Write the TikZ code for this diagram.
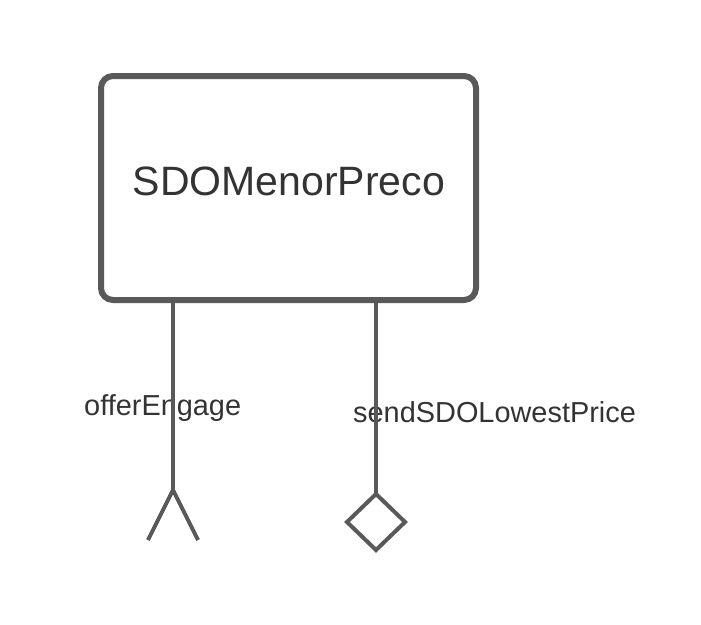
\documentclass[tikz,border=0pt]{standalone}
\usepackage{fontspec}
\setmainfont{Liberation Sans}
\usetikzlibrary{shapes.geometric}
\definecolor{umlgray}{HTML}{595959}
\definecolor{umltext}{HTML}{333333}
\tikzset{
  compbox/.style={draw=umlgray, line width=6pt, rounded corners=12pt, rectangle,
    minimum width=375pt, minimum height=224pt, inner sep=0pt, outer sep=0pt},
  portline/.style={draw=umlgray, line width=4pt},
  provided/.style={draw=umlgray, line width=4pt, fill=white, diamond, inner sep=0pt,
    minimum width=58pt, minimum height=56pt, outer sep=0pt},
  title/.style={text=umltext, font=\fontsize{41}{46}\selectfont, anchor=base, inner sep=0pt},
  portlabel/.style={text=umltext, font=\fontsize{28.9}{32}\selectfont, anchor=base west, inner sep=0pt}
}
\begin{document}
\begin{tikzpicture}[x=1pt, y=-1pt, line join=miter]
  \useasboundingbox (0,0) rectangle (701,624);

  \coordinate (apex) at (173,490);
  \coordinate (forkl) at (148,540);
  \coordinate (forkr) at (198,540);

  \node[portlabel] (offer) at (84,415) {offerEngage};
  \node[portlabel] (send) at (353,422) {sendSDOLowestPrice};

  \node[compbox] (box) at (288.5,188) {};
  \node[title] (name) at (289,195) {SDOMenorPreco};
  \node[provided] (dmd) at (376,522) {};

  \draw[portline] (box.south -| apex) -- (apex);
  \draw[portline] (forkl) -- (apex) -- (forkr);
  \draw[portline] (box.south -| dmd) -- (dmd.north);
\end{tikzpicture}
\end{document}
